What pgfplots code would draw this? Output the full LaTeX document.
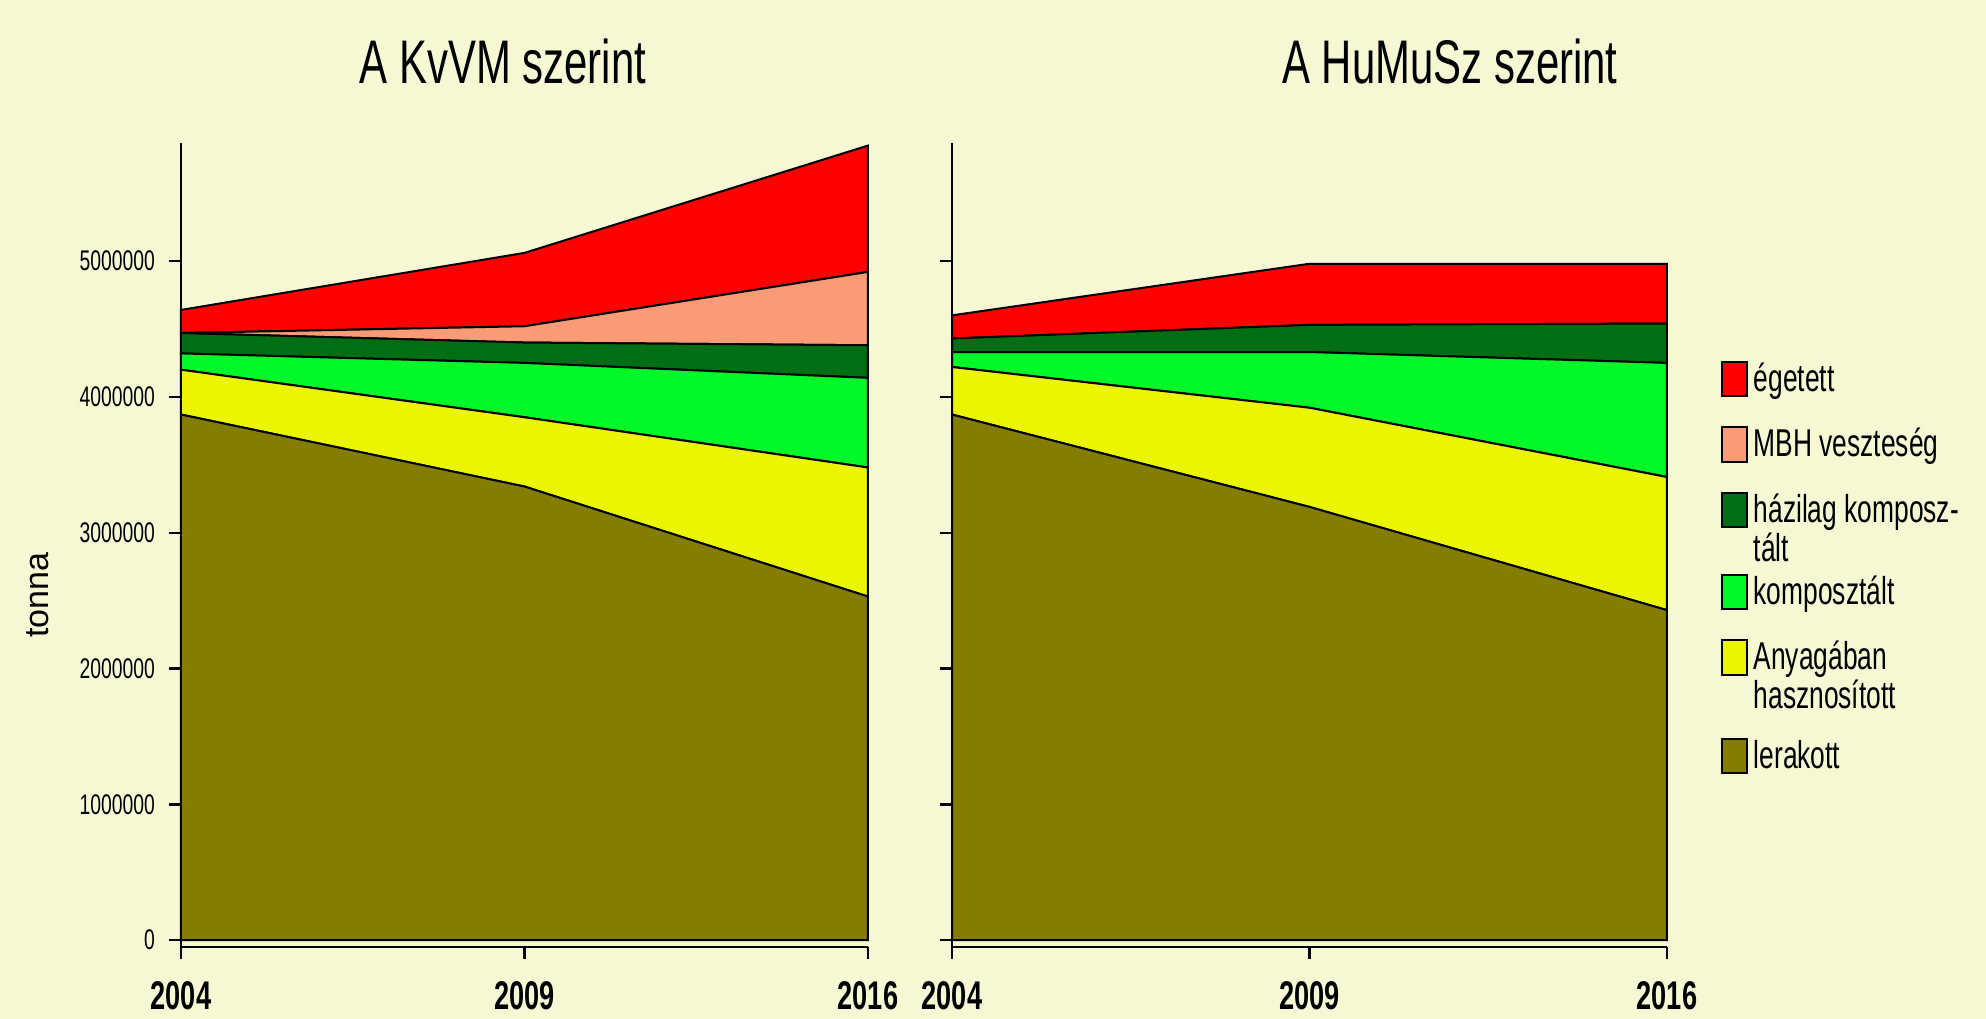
\documentclass[border=0pt]{standalone}
\usepackage{pgfplots}
\pgfplotsset{compat=1.18}
\usepackage{fontspec}
\setmainfont{Liberation Sans}[FakeStretch=0.68]
\newfontfamily\plainsans{Liberation Sans}
\definecolor{bgc}{RGB}{246,248,212}
\definecolor{cRed}{RGB}{255,0,0}
\definecolor{cMBH}{RGB}{248,155,118}
\definecolor{cDark}{RGB}{0,110,20}
\definecolor{cGreen}{RGB}{0,248,40}
\definecolor{cYellow}{RGB}{236,245,0}
\definecolor{cOlive}{RGB}{132,125,0}
\newcommand{\lgone}[2]{\raisebox{0pt}[7pt][#1]{#2}}
\newcommand{\lgtwo}[3]{\raisebox{0pt}[7pt][#1]{\vtop{\hbox{#2}\hbox{#3}}}}
\begin{document}
\begin{tikzpicture}[x=1pt,y=1pt]
\fill[bgc] (0,0) rectangle (496.5,254.75);
\pgfplotsset{
  panel/.style={
    scale only axis, height=201pt,
    xmin=0, xmax=2, ymin=-50000, ymax=5869000,
    axis x line*=bottom, axis y line*=left,
    axis line style={black, line width=0.6pt},
    tick align=outside, major tick length=3pt,
    tick style={black, line width=0.6pt},
    xtick={0,1,2}, xticklabels={2004,2009,2016},
    ytick={0,1000000,2000000,3000000,4000000,5000000},
    scaled y ticks=false,
    stack plots=y,
    xticklabel style={font=\bfseries\fontsize{10}{12}\selectfont, yshift=-2pt},
    yticklabel style={font=\fontsize{7.1}{9}\selectfont},
    every axis plot/.append style={draw=black, line width=0.5pt, mark=none},
    clip=false,
  }
}
\begin{axis}[panel, at={(45.25pt,18pt)}, anchor=south west, width=171.75pt,
  yticklabels={0,1000000,2000000,3000000,4000000,5000000}]
\addplot[fill=cOlive] coordinates {(0,3870000) (1,3340000) (2,2530000)} \closedcycle;
\addplot[fill=cYellow] coordinates {(0,330000) (1,510000) (2,950000)} \closedcycle;
\addplot[fill=cGreen] coordinates {(0,120000) (1,400000) (2,660000)} \closedcycle;
\addplot[fill=cDark] coordinates {(0,150000) (1,150000) (2,240000)} \closedcycle;
\addplot[fill=cMBH] coordinates {(0,0) (1,120000) (2,540000)} \closedcycle;
\addplot[fill=cRed] coordinates {(0,170000) (1,540000) (2,930000)} \closedcycle;
\end{axis}
\begin{axis}[panel, at={(238pt,18pt)}, anchor=south west, width=178.75pt,
  yticklabels={},
  legend style={at={(1.074,0.730)}, anchor=north west, draw=none, fill=none,
    inner sep=0pt, row sep=6.85pt, font=\fontsize{9.7}{9.8}\selectfont,
    cells={anchor=base west},
    nodes={text depth=, inner xsep=1.5pt, inner ysep=0pt}},
  legend image code/.code={\draw[#1,draw=black,line width=0.5pt] (0pt,-1.3pt) rectangle (6.25pt,7.3pt);}]
\addlegendimage{fill=cRed}
\addlegendimage{fill=cMBH}
\addlegendimage{fill=cDark}
\addlegendimage{fill=cGreen}
\addlegendimage{fill=cYellow}
\addlegendimage{fill=cOlive}
\addplot[fill=cOlive] coordinates {(0,3870000) (1,3190000) (2,2430000)} \closedcycle;
\addplot[fill=cYellow] coordinates {(0,350000) (1,730000) (2,980000)} \closedcycle;
\addplot[fill=cGreen] coordinates {(0,110000) (1,410000) (2,840000)} \closedcycle;
\addplot[fill=cDark] coordinates {(0,100000) (1,200000) (2,290000)} \closedcycle;
\addplot[fill=cRed] coordinates {(0,170000) (1,450000) (2,440000)} \closedcycle;
\legend{{\lgone{2pt}{égetett}}, {\lgone{2pt}{MBH veszteség}}, {\lgtwo{6.05pt}{házilag komposz-}{tált}}, {\lgone{2pt}{komposztált}}, {\lgtwo{10.25pt}{Anyagában}{hasznosított}}, {\lgone{2pt}{lerakott}}}
\end{axis}
\node[font=\fontsize{15.4}{18}\selectfont] at (125.75,239.5) {A KvVM szerint};
\node[font=\fontsize{15.4}{18}\selectfont] at (362.5,239.5) {A HuMuSz szerint};
\node[rotate=90, font=\plainsans\fontsize{8.5}{10}\selectfont] at (9.5,106) {tonna};
\pgfresetboundingbox
\useasboundingbox (0,0) rectangle (496.5,254.75);
\end{tikzpicture}
\end{document}
